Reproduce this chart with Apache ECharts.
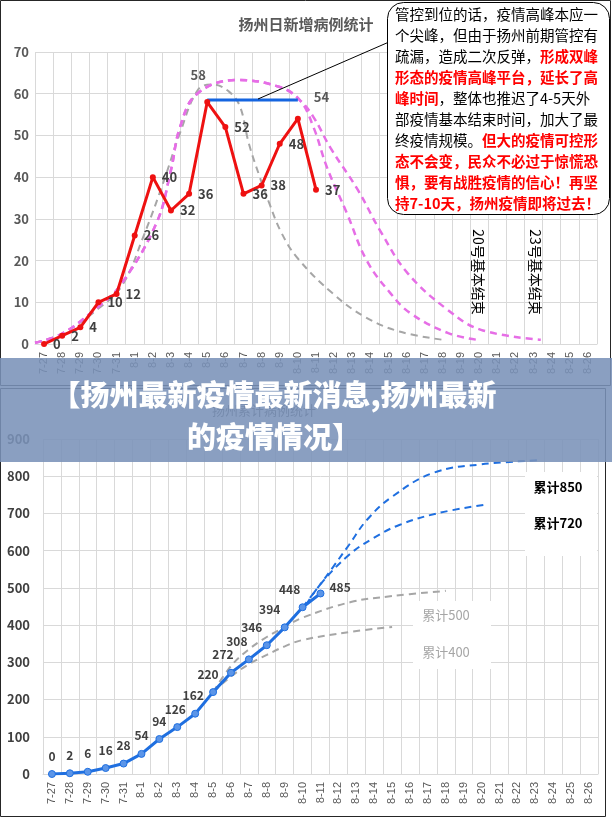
<!DOCTYPE html>
<html>
<head>
<meta charset="utf-8">
<script src="https://cdn.jsdelivr.net/npm/echarts@6/dist/echarts.min.js"></script>
<style>
html, body { margin: 0; padding: 0; background: #fff; }
#main { width: 612px; height: 822px; }
</style>
</head>
<body>
<div id="main"></div>
<script>
// 日期（两张图共用）
var dates = ['7-27', '7-28', '7-29', '7-30', '7-31', '8-1', '8-2', '8-3', '8-4', '8-5', '8-6',
  '8-7', '8-8', '8-9', '8-10', '8-11', '8-12', '8-13', '8-14', '8-15', '8-16', '8-17', '8-18',
  '8-19', '8-20', '8-21', '8-22', '8-23', '8-24', '8-25', '8-26'];

// 日新增
var dailyNew = [0, 2, 4, 10, 12, 26, 40, 32, 36, 58, 52, 36, 38, 48, 54, 37];
// 单峰预测（灰虚线），[日期序号, 病例]
var singlePeak = [[-0.5, 0.3], [1, 2.5], [3, 8.5], [4.3, 14], [5.5, 26], [6.6, 39], [7.5, 50.6],
  [8.5, 61], [9.3, 62.2], [10.2, 60.5], [10.8, 57], [11.3, 48], [11.9, 40], [12.4, 34],
  [13.1, 26.6], [14, 20.5], [15.9, 12.2], [17.7, 6.5], [19.6, 3], [22, 1]];
// 双峰平台预测（粉虚线）
var doublePeakLate = [[-0.5, 0.3], [1, 2.5], [3, 9], [4.2, 14], [6.2, 29], [7, 41.7], [7.5, 52],
  [8.45, 60], [10.66, 63.3], [13, 61.6], [14.1, 58.5], [14.86, 54.4], [15.8, 47], [17.3, 37],
  [18.56, 27], [20.05, 17], [22.26, 8.2], [24.1, 3.4], [27.4, 1]];
var doublePeakEarly = [[-0.5, 0.3], [1, 2.5], [3, 9], [4.2, 14], [6.2, 29], [7, 41.7], [7.5, 52],
  [8.45, 60], [10.66, 63.3], [13, 61.6], [14.1, 58.5], [14.86, 52], [15.6, 42.4], [16.7, 31.4],
  [17.8, 20], [19.1, 12.2], [20.2, 7.4], [22.3, 2.6], [23.9, 1]];
// 高峰平台（蓝线）
var plateau = [[9, 58.5], [14, 58.5]];

// 累计
var cumulative = [0, 2, 6, 16, 28, 54, 94, 126, 162, 220, 272, 308, 346, 394, 448, 485];
var cum500 = [[9, 220], [10, 290], [11, 335], [12, 368], [13, 395], [14, 420], [16.7, 462], [19, 478], [22, 492]];
var cum400 = [[9, 220], [10, 262], [11, 295], [12, 320], [13, 343], [14, 360], [16.7, 382], [19, 395]];
var cum850 = [[14, 448], [15, 510], [15.7, 556], [16.6, 616], [17.6, 683], [19, 745], [21.3, 809], [24, 832], [27.3, 843]];
var cum720 = [[14.2, 455], [15, 510], [16.6, 589], [18, 635], [19.4, 669], [21.5, 700], [24.1, 723]];

var note = [
  '{k|管控到位的话，疫情高峰本应一}',
  '{k|个尖峰，但由于扬州前期管控有}',
  '{k|疏漏，造成二次反弹，}{r|形成双峰}',
  '{r|形态的疫情高峰平台，延长了高}',
  '{r|峰时间}{k|，整体也推迟了4-5天外}',
  '{k|部疫情基本结束时间，加大了最}',
  '{k|终疫情规模。}{r|但大的疫情可控形}',
  '{r|态不会变，民众不必过于惊慌恐}',
  '{r|惧，要有战胜疫情的信心！再坚}',
  '{r|持7-10天，扬州疫情即将过去！}'
];

var FONT = '"Noto Sans CJK SC", "Noto Sans", sans-serif';
var gridColor = '#d9d9d9';

var myChart = echarts.init(document.getElementById('main'));

var catAxis = function (gridIndex) {
  return {
    type: 'category', gridIndex: gridIndex, data: dates,
    axisLine: { lineStyle: { color: gridColor } },
    axisTick: { show: false },
    axisLabel: { rotate: 90, interval: 0, fontSize: 11, color: '#595959', margin: 8, fontFamily: 'Liberation Sans' },
    splitLine: { show: true, interval: 0, lineStyle: { color: gridColor } }
  };
};
var posAxis = function (gridIndex) {
  return { type: 'value', gridIndex: gridIndex, min: -0.5, max: 30.5, show: false };
};
var dashed = function (name, data, xi, yi, color, width) {
  return {
    name: name, type: 'line', xAxisIndex: xi, yAxisIndex: yi, data: data,
    smooth: 0.4, showSymbol: false, silent: true,
    lineStyle: { color: color, width: width, type: [7, 5] }
  };
};

// 累计图标签偏移
var cumOffsets = [0, 0, 0, 0, 0, 0, 0, -2, -2, -5, -8, -12, -15, -15, -13];

var option = {
  animation: false,
  textStyle: { fontFamily: FONT },
  title: [
    { text: '扬州日新增病例统计', left: 306, top: 24, textAlign: 'center', textVerticalAlign: 'middle', padding: 0,
      textStyle: { fontSize: 15, fontWeight: 'bold', color: '#595959', fontFamily: FONT } },
    { text: '扬州累计病例统计', left: 264, top: 410, textAlign: 'center', textVerticalAlign: 'middle', padding: 0,
      textStyle: { fontSize: 13, fontWeight: 'normal', color: '#595959', fontFamily: FONT } }
  ],
  grid: [
    { left: 35, right: 15, top: 52, bottom: 478 },
    { left: 43, right: 14, top: 439, bottom: 48 }
  ],
  xAxis: [catAxis(0), posAxis(0), catAxis(1), posAxis(1)],
  yAxis: [
    {
      type: 'value', gridIndex: 0, min: 0, max: 70, interval: 10,
      axisLine: { show: false }, axisTick: { show: false },
      axisLabel: { fontSize: 13, color: '#595959', fontWeight: 'bold', margin: 6 },
      splitLine: { lineStyle: { color: gridColor } }
    },
    {
      type: 'value', gridIndex: 1, min: 0, max: 900, interval: 100,
      axisLine: { show: false }, axisTick: { show: false },
      axisLabel: { fontSize: 13, color: '#404040', fontWeight: 'bold', margin: 13 },
      splitLine: { lineStyle: { color: gridColor } }
    }
  ],
  series: [
    dashed('单峰', singlePeak, 1, 0, '#a6a6a6', 2),
    dashed('双峰晚', doublePeakLate, 1, 0, '#e66ee6', 2.5),
    dashed('双峰早', doublePeakEarly, 1, 0, '#e66ee6', 2.5),
    {
      name: '平台', type: 'line', xAxisIndex: 1, yAxisIndex: 0, data: plateau,
      showSymbol: false, lineStyle: { color: '#1565e0', width: 3 }
    },
    {
      name: '日新增', type: 'line', xAxisIndex: 0, yAxisIndex: 0,
      data: dailyNew.map(function (v, i) {
        if (v === 58) return { value: v, label: { position: 'top', offset: [-9, -11], color: '#595959' } };
        if (i === 14) return { value: v, label: { offset: [7, -22], color: '#595959' } };
        return v;
      }),
      symbol: 'circle', symbolSize: 6, z: 5,
      itemStyle: { color: '#ee1111' },
      lineStyle: { color: '#ee1111', width: 3 },
      label: { show: true, position: 'right', distance: 6, fontSize: 13, fontWeight: 'bold', color: '#404040' }
    },
    dashed('累计500', cum500, 3, 1, '#a6a6a6', 2),
    dashed('累计400', cum400, 3, 1, '#a6a6a6', 2),
    dashed('累计850', cum850, 3, 1, '#1f6fe0', 2),
    dashed('累计720', cum720, 3, 1, '#1f6fe0', 2),
    {
      name: '累计', type: 'line', xAxisIndex: 2, yAxisIndex: 1,
      data: cumulative.map(function (v, i) {
        if (i === cumulative.length - 1) return { value: v, label: { position: 'right', offset: [-3, -6] } };
        return { value: v, label: { offset: [cumOffsets[i], 0] } };
      }),
      symbol: 'circle', symbolSize: 7, z: 5,
      itemStyle: { color: '#5b95e8', borderColor: '#1f6fe0', borderWidth: 1 },
      lineStyle: { color: '#1f6fe0', width: 3 },
      label: { show: true, position: 'top', distance: 8, fontSize: 12, fontWeight: 'bold', color: '#404040' }
    }
  ],
  graphic: [
    // 图框
    { type: 'rect', shape: { x: 0.5, y: 0.5, width: 610, height: 385 }, style: { fill: 'none', stroke: '#262626', lineWidth: 1 }, z: 1 },
    { type: 'rect', shape: { x: 0.5, y: 388.5, width: 605, height: 428 }, style: { fill: 'none', stroke: '#262626', lineWidth: 1 }, z: 1 },
    // 指引线和注释框
    { type: 'line', shape: { x1: 258, y1: 99, x2: 389, y2: 42 }, style: { stroke: '#000', lineWidth: 1 }, z: 6 },
    { type: 'rect', shape: { x: 387.5, y: 2.5, width: 222, height: 212, r: 16 }, style: { fill: '#fff', stroke: '#000', lineWidth: 1 }, z: 6 },
    {
      type: 'text', x: 395, y: 4, z: 7,
      style: {
        text: note.join('\n'), fontFamily: FONT, fontSize: 14.5, lineHeight: 21,
        rich: {
          k: { fill: '#000', fontSize: 14.5, lineHeight: 21, fontFamily: FONT },
          r: { fill: '#ff0000', fontSize: 14.5, lineHeight: 21, fontWeight: 'bold', fontFamily: FONT }
        }
      }
    },
    // 竖排说明
    { type: 'text', x: 478, y: 272, rotation: -Math.PI / 2, style: { text: '20号基本结束', fontSize: 14, fill: '#000', textAlign: 'center', textVerticalAlign: 'middle', fontFamily: FONT }, z: 6 },
    { type: 'text', x: 535, y: 272, rotation: -Math.PI / 2, style: { text: '23号基本结束', fontSize: 14, fill: '#000', textAlign: 'center', textVerticalAlign: 'middle', fontFamily: FONT }, z: 6 },
    // 累计图标注
    { type: 'rect', shape: { x: 525, y: 472, width: 72, height: 84 }, style: { fill: '#fff' }, z: 6 },
    { type: 'text', x: 558, y: 487, style: { text: '累计850', fontSize: 13, fontWeight: 'bold', fill: '#000', textAlign: 'center', textVerticalAlign: 'middle', fontFamily: FONT }, z: 7 },
    { type: 'text', x: 558, y: 523, style: { text: '累计720', fontSize: 13, fontWeight: 'bold', fill: '#000', textAlign: 'center', textVerticalAlign: 'middle', fontFamily: FONT }, z: 7 },
    { type: 'rect', shape: { x: 413, y: 601, width: 78, height: 68 }, style: { fill: '#fff' }, z: 6 },
    { type: 'text', x: 446, y: 615, style: { text: '累计500', fontSize: 13, fill: '#a6a6a6', textAlign: 'center', textVerticalAlign: 'middle', fontFamily: FONT }, z: 7 },
    { type: 'text', x: 446, y: 652, style: { text: '累计400', fontSize: 13, fill: '#a6a6a6', textAlign: 'center', textVerticalAlign: 'middle', fontFamily: FONT }, z: 7 },
    // 标题横幅
    { type: 'rect', shape: { x: 0, y: 358, width: 612, height: 104 }, style: { fill: 'rgba(122,146,184,0.88)' }, z: 100 },
    {
      type: 'text', x: 274, y: 416, z: 101,
      style: {
        text: '【扬州最新疫情最新消息,扬州最新\n的疫情情况】', fontSize: 29, fontWeight: 900, lineHeight: 42,
        fill: '#fff', textAlign: 'center', textVerticalAlign: 'middle', fontFamily: FONT
      }
    }
  ]
};

option && myChart.setOption(option);
</script>
</body>
</html>
